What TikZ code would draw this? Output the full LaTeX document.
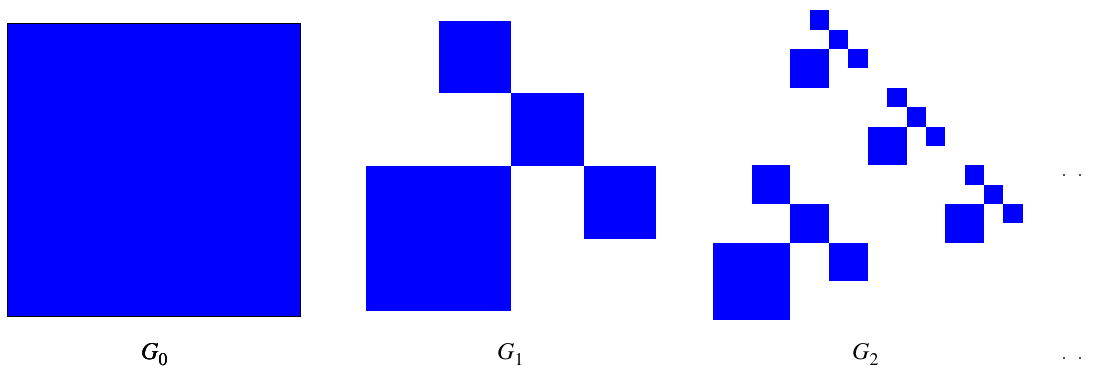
\documentclass[tikz,border=0pt]{standalone}
\usepackage{mathptmx}
\usepackage{tikz}
\usetikzlibrary{positioning}
% G1 pattern: lower left corner (#1,#2), cell size #3
\newcommand{\stair}[3]{%
  \fill[cell] (#1,#2) rectangle ++(2*#3,-2*#3);
  \foreach \c/\r in {1/3,2/2,3/1}
    \fill[cell] ({#1+\c*#3},{#2-\r*#3}) rectangle ++(#3,-#3);
}
% label with a deep subscript
\newcommand{\glab}[1]{$G\raisebox{-6pt}{$\scriptstyle #1$}$}

\begin{document}
\begin{tikzpicture}[x=1pt, y=-1pt,
  cell/.style={fill=blue},
  lab/.style={anchor=base west, inner sep=0pt, font=\fontsize{24}{28}\selectfont}]
  \useasboundingbox (0,0) rectangle (1093,369);
  % G0
  \filldraw[cell, draw=black, line width=0.9pt] (7,23) rectangle (300,316);
  % G1
  \stair{366}{311}{72.5}
  % G2
  \stair{713}{320}{38.7}
  \foreach \i/\j in {4/12,8/8,12/4}
    \stair{713+\i*19.35}{320-\j*19.35}{19.35}
  % labels
  \node[lab] (g0) at (141,359) {\glab{0}};
  \node[lab] (g1) at (497,359) {\glab{1}};
  \node[lab] (g2) at (852,359) {\glab{2}};
  \node[lab] (dots1) at (1061,176.5) {.\hspace{10pt}.};
  \node[lab] (dots2) at (1061,359.5) {.\hspace{10pt}.};
\end{tikzpicture}
\end{document}
